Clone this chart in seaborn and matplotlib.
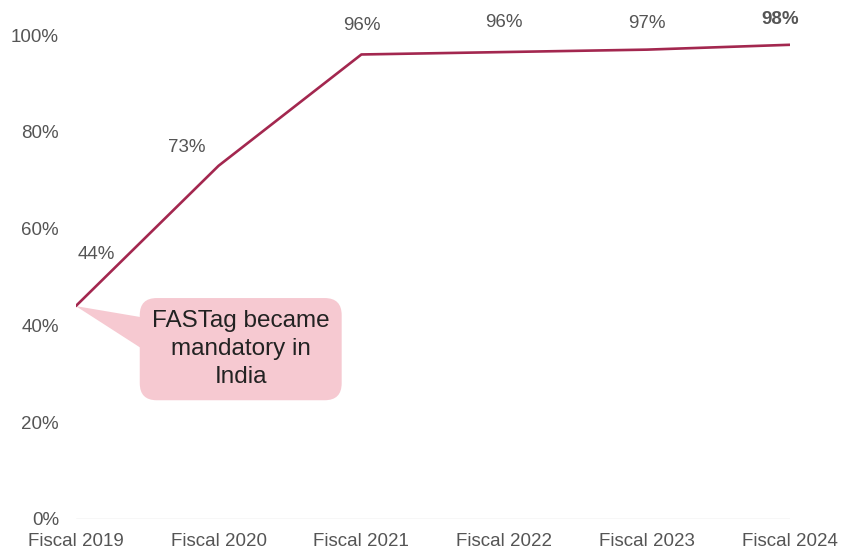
import matplotlib

matplotlib.use("Agg")
import matplotlib.pyplot as plt
import pandas as pd
import seaborn as sns
from matplotlib.patches import Polygon

years = ["Fiscal 2019", "Fiscal 2020", "Fiscal 2021", "Fiscal 2022", "Fiscal 2023", "Fiscal 2024"]
share = [44, 73, 96, 96.5, 97, 98]
labels = ["44%", "73%", "96%", "96%", "97%", "98%"]
yticks = [0, 20, 40, 60, 80, 100]

LINE = "#A3274F"
PINK = "#F6C9D1"
GREY = "#555555"


def plot() -> None:
    df = pd.DataFrame({"pos": range(len(years)), "year": years, "share": share})

    sns.set_theme(style="white")
    plt.rcParams["font.family"] = ["Liberation Sans", "DejaVu Sans"]

    fig = plt.figure(figsize=(8.42, 5.53), dpi=100)
    ax = fig.add_axes([0.090, 0.0615, 0.848, 0.875])

    sns.lineplot(ax=ax, data=df, x="pos", y="share", color=LINE, linewidth=1.9, zorder=3)
    ax.axhline(0, color="#d9d9d9", linewidth=1, zorder=0)

    # label offsets in points (dx, dy)
    offsets = [(15, 31), (-23, 7), (0, 15), (0, 15), (0, 13), (-7, 12)]
    for i, (val, lab) in enumerate(zip(share, labels)):
        dx, dy = offsets[i]
        ax.annotate(
            lab, (i, val), xytext=(dx, dy), textcoords="offset points",
            ha="center", va="bottom", fontsize=13.5, color=GREY,
            fontweight="bold" if i == len(share) - 1 else "normal",
        )

    # callout: pointer wedge + rounded box
    ax.add_patch(Polygon([(0, share[0]), (0.5, 41.5), (0.5, 34.5)], closed=True,
                         fc=PINK, ec="none", zorder=2))
    ax.text(
        1.155, 35.1, "FASTag became\nmandatory in\nIndia",
        ha="center", va="center", fontsize=17.5, color="#222222",
        linespacing=1.35, zorder=2,
        bbox=dict(boxstyle="round,pad=0.5,rounding_size=0.7", fc=PINK, ec="none"),
    )

    ax.set_xlim(0, len(years) - 1)
    ax.set_ylim(0, 100)
    ax.set_xticks(range(len(years)))
    ax.set_xticklabels(years)
    ax.set_yticks(yticks)
    ax.set_yticklabels([f"{t}%" for t in yticks])
    ax.tick_params(axis="both", labelsize=13.5, labelcolor=GREY, length=0)
    ax.tick_params(axis="y", pad=12)
    ax.tick_params(axis="x", pad=10)
    ax.set_xlabel("")
    ax.set_ylabel("")
    sns.despine(ax=ax, left=True, bottom=True)

    fig.savefig("out.png", dpi=100)


if __name__ == "__main__":
    plot()
